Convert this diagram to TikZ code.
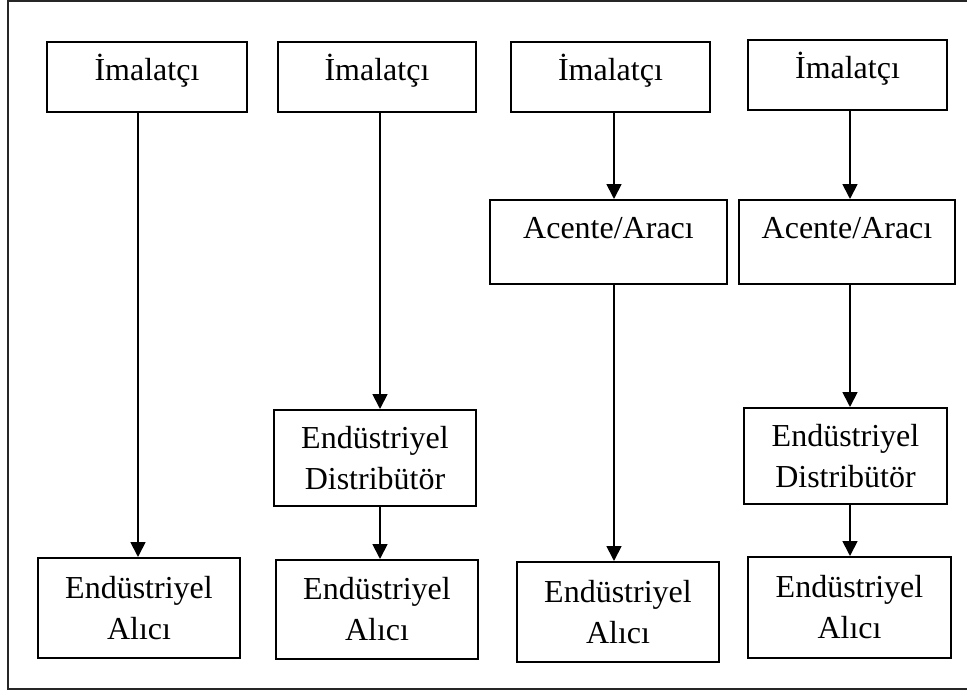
\documentclass[tikz,border=0pt]{standalone}
\usepackage{fontspec}
\setmainfont{Liberation Serif}
\usetikzlibrary{arrows.meta}
\begin{document}
\begin{tikzpicture}[x=1pt,y=-1pt,
  box/.style={draw=black, line width=2pt, inner sep=0pt, align=center,
    font=\fontsize{32}{41}\selectfont},
  onebox/.style={box, text height=22pt, text depth=14pt},
  topbox/.style={box, text height=14pt, text depth=22pt},
  arr/.style={line width=1.8pt, -{Triangle[width=15pt,length=15pt]}},
  frame/.style={draw=black!85, line width=2pt}]
\useasboundingbox (0,0) rectangle (967,693);
\draw[frame] (980,1) -- (7.5,1) -- (7.5,689) -- (980,689);

\node[onebox, minimum width=200pt, minimum height=70pt] (i1) at (147,77) {İmalatçı};
\node[onebox, minimum width=198pt, minimum height=70pt] (i2) at (377,77) {İmalatçı};
\node[onebox, minimum width=199pt, minimum height=70pt] (i3) at (610.5,77) {İmalatçı};
\node[onebox, minimum width=199pt, minimum height=70pt] (i4) at (847.5,75) {İmalatçı};

\node[topbox, minimum width=237pt, minimum height=84pt] (ac3) at (608.5,242) {Acente/Aracı};
\node[topbox, minimum width=216pt, minimum height=84pt] (ac4) at (847,242) {Acente/Aracı};

\node[box, minimum width=202pt, minimum height=96pt] (d2) at (375,458) {Endüstriyel\\Distribütör};
\node[box, minimum width=203pt, minimum height=96pt] (d4) at (845.5,456) {Endüstriyel\\Distribütör};

\node[box, minimum width=202pt, minimum height=100pt] (a1) at (139,608) {Endüstriyel\\Alıcı};
\node[box, minimum width=202pt, minimum height=99pt] (a2) at (377,609.5) {Endüstriyel\\Alıcı};
\node[box, minimum width=202pt, minimum height=100pt] (a3) at (618,612) {Endüstriyel\\Alıcı};
\node[box, minimum width=203pt, minimum height=101pt] (a4) at (849.5,607.5) {Endüstriyel\\Alıcı};

\coordinate (c1) at (138,0);
\coordinate (c2) at (380,0);
\coordinate (c3) at (614,0);
\coordinate (c4) at (850,0);

\draw[arr] (i1.south -| c1) -- (a1.north -| c1);
\draw[arr] (i2.south -| c2) -- (d2.north -| c2);
\draw[arr] (d2.south -| c2) -- (a2.north -| c2);
\draw[arr] (i3.south -| c3) -- (ac3.north -| c3);
\draw[arr] (ac3.south -| c3) -- (a3.north -| c3);
\draw[arr] (i4.south -| c4) -- (ac4.north -| c4);
\draw[arr] (ac4.south -| c4) -- (d4.north -| c4);
\draw[arr] (d4.south -| c4) -- (a4.north -| c4);
\end{tikzpicture}
\end{document}
